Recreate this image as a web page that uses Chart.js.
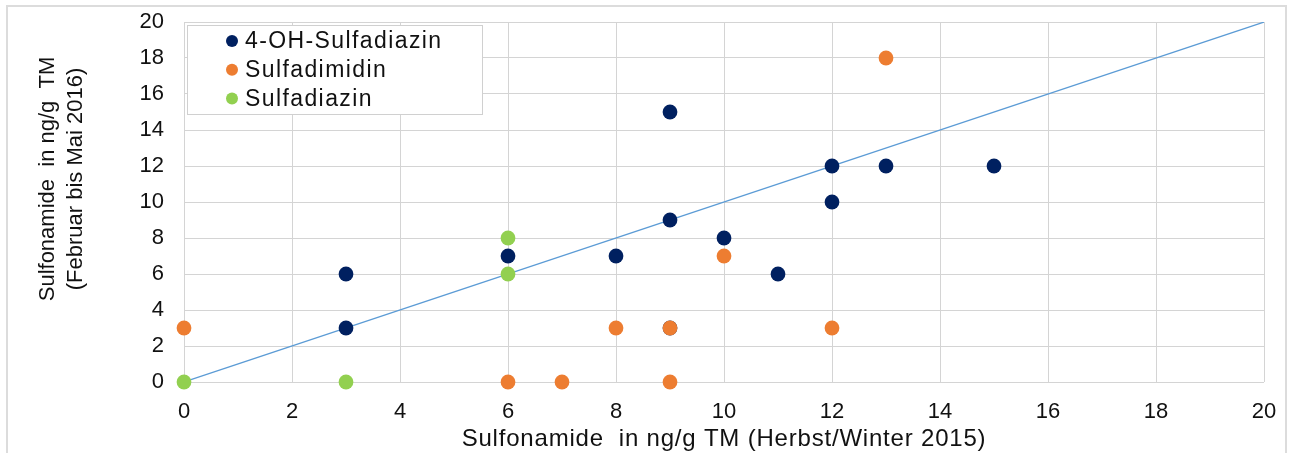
<!DOCTYPE html>
<html>
<head>
<meta charset="utf-8">
<title>Sulfonamide</title>
<script src="https://cdn.jsdelivr.net/npm/chart.js@4"></script>
<style>
  html, body { margin: 0; padding: 0; background: #fff; }
  #wrap { position: relative; width: 1290px; height: 453px; }
</style>
</head>
<body>
<div id="wrap"><canvas id="c" width="1290" height="453"></canvas></div>
<script>
// Series names and colours
const seriesNames = ['4-OH-Sulfadiazin', 'Sulfadimidin', 'Sulfadiazin'];
const seriesColors = ['#002060', '#ED7D31', '#92D050'];

// Herbst/Winter 2015 (x) vs. Februar bis Mai 2016 (y), ng/g TM
const hydroxyX = [3, 3, 6, 8, 9, 9, 9, 10, 11, 12, 12, 13, 15];
const hydroxyY = [6, 3, 7, 7, 15, 9, 3, 8, 6, 12, 10, 12, 12];

const dimidinX = [0, 6, 7, 8, 9, 9, 10, 12, 13];
const dimidinY = [3, 0, 0, 3, 3, 0, 7, 3, 18];

const diazinX = [0, 3, 6, 6];
const diazinY = [0, 0, 8, 6];

// 1:1 reference line
const refLineX = [0, 20];
const refLineY = [0, 20];

// Axis ticks
const axisMin = 0;
const axisMax = 20;
const axisStep = 2;

// Axis titles
const xTitle = 'Sulfonamide  in ng/g TM (Herbst/Winter 2015)';
const yTitleLines = ['Sulfonamide  in ng/g  TM', '(Februar bis Mai 2016)'];

const FONT = '"Liberation Sans", Arial, sans-serif';

function toPoints(xs, ys) {
  return xs.map((x, i) => ({ x: x, y: ys[i] }));
}

function pointSet(idx, xs, ys, order) {
  return {
    label: seriesNames[idx],
    data: toPoints(xs, ys),
    backgroundColor: seriesColors[idx],
    borderColor: seriesColors[idx],
    borderWidth: 0,
    pointRadius: 7.4,
    pointHoverRadius: 7.4,
    showLine: false,
    clip: false,
    order: order
  };
}

// Light frame around the whole figure
const framePlugin = {
  id: 'frame',
  beforeDraw(chart) {
    const ctx = chart.ctx;
    ctx.save();
    ctx.fillStyle = '#fff';
    ctx.fillRect(0, 0, chart.width, chart.height);
    ctx.strokeStyle = '#dcdcdc';
    ctx.lineWidth = 2;
    ctx.strokeRect(7, 6, 1279, 470);
    ctx.restore();
  }
};

// Axis titles placed relative to the plot area
const titlesPlugin = {
  id: 'titles',
  afterDraw(chart) {
    const ctx = chart.ctx;
    ctx.save();
    ctx.fillStyle = '#111';
    ctx.textAlign = 'center';
    ctx.textBaseline = 'alphabetic';
    ctx.font = '24px ' + FONT;
    if ('letterSpacing' in ctx) ctx.letterSpacing = '0.8px';
    ctx.fillText(xTitle, 724, 446);

    if ('letterSpacing' in ctx) ctx.letterSpacing = '0px';
    ctx.font = '22px ' + FONT;
    ctx.translate(0, 179);
    ctx.rotate(-Math.PI / 2);
    ctx.fillText(yTitleLines[0], 0, 54);
    ctx.fillText(yTitleLines[1], 0, 82);
    ctx.restore();
  }
};

// Boxed legend in the upper left corner of the plot
const legendPlugin = {
  id: 'boxLegend',
  afterDraw(chart) {
    const ctx = chart.ctx;
    const a = chart.chartArea;
    const bx = a.left + 3, by = a.top + 3, bw = 295, bh = 89;
    ctx.save();
    ctx.fillStyle = '#fff';
    ctx.fillRect(bx, by, bw, bh);
    ctx.strokeStyle = '#d0d0d0';
    ctx.lineWidth = 1;
    ctx.strokeRect(bx + 0.5, by + 0.5, bw, bh);
    ctx.font = '23px ' + FONT;
    ctx.textBaseline = 'middle';
    ctx.textAlign = 'left';
    if ('letterSpacing' in ctx) ctx.letterSpacing = '1.4px';
    seriesNames.forEach((name, i) => {
      const cy = by + 16 + i * 28.7;
      ctx.fillStyle = seriesColors[i];
      ctx.beginPath();
      ctx.arc(bx + 45, cy, 6, 0, Math.PI * 2);
      ctx.fill();
      ctx.fillStyle = '#111';
      ctx.fillText(name, bx + 58, cy + 1);
    });
    ctx.restore();
  }
};

const gridColor = '#d4d4d4';

new Chart(document.getElementById('c'), {
  type: 'scatter',
  data: {
    datasets: [
      {
        label: '1:1',
        type: 'line',
        data: toPoints(refLineX, refLineY),
        borderColor: '#5B9BD5',
        borderWidth: 1.2,
        pointRadius: 0,
        fill: false,
        order: 4
      },
      pointSet(0, hydroxyX, hydroxyY, 3),
      pointSet(1, dimidinX, dimidinY, 2),
      pointSet(2, diazinX, diazinY, 1)
    ]
  },
  options: {
    responsive: false,
    animation: false,
    events: [],
    layout: { padding: { left: 0, top: 22, right: 26, bottom: 0 } },
    plugins: {
      legend: { display: false },
      tooltip: { enabled: false },
      title: { display: false }
    },
    scales: {
      x: {
        type: 'linear',
        min: axisMin,
        max: axisMax,
        afterFit(scale) {
          scale.height = 71;
          scale.paddingLeft = 0;
          scale.paddingRight = 0;
        },
        ticks: {
          stepSize: axisStep,
          color: '#111',
          font: { family: FONT, size: 22 },
          padding: 17
        },
        grid: { color: gridColor, lineWidth: 1, drawTicks: false },
        border: { display: false }
      },
      y: {
        type: 'linear',
        min: axisMin,
        max: axisMax,
        afterFit(scale) {
          scale.width = 184;
          scale.paddingTop = 0;
          scale.paddingBottom = 0;
        },
        ticks: {
          stepSize: axisStep,
          color: '#111',
          font: { family: FONT, size: 22 },
          padding: 20
        },
        grid: { color: gridColor, lineWidth: 1, drawTicks: false },
        border: { display: false }
      }
    }
  },
  plugins: [framePlugin, titlesPlugin, legendPlugin]
});
</script>
</body>
</html>
